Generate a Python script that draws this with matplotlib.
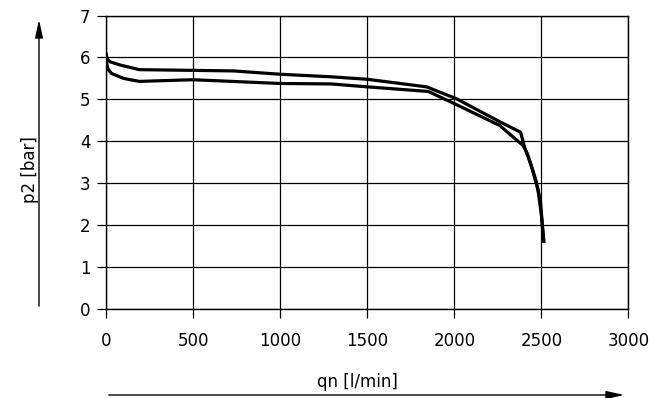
import matplotlib
matplotlib.use("Agg")
import matplotlib.pyplot as plt

# flow rate qn [l/min] and outlet pressure p2 [bar]
qn_upper = [0, 5, 20, 80, 190, 730, 1000, 1290, 1500, 1840, 2010, 2260, 2380, 2405, 2440, 2470, 2495, 2512]
p2_upper = [6.08, 5.97, 5.90, 5.82, 5.71, 5.68, 5.60, 5.54, 5.48, 5.30, 5.02, 4.47, 4.22, 3.84, 3.45, 3.05, 2.55, 1.62]

qn_lower = [0, 3, 10, 30, 100, 190, 500, 1000, 1290, 1500, 1850, 2010, 2260, 2395, 2420, 2450, 2480, 2500, 2514]
p2_lower = [6.02, 5.85, 5.72, 5.62, 5.50, 5.43, 5.47, 5.38, 5.37, 5.30, 5.19, 4.88, 4.38, 3.90, 3.70, 3.30, 2.85, 2.25, 1.62]

x_ticks = [0, 500, 1000, 1500, 2000, 2500, 3000]
y_ticks = [0, 1, 2, 3, 4, 5, 6, 7]

fig = plt.figure(figsize=(6.56, 3.98), dpi=100)
ax = fig.add_axes([0.162, 0.223, 0.796, 0.738])

ax.plot(qn_upper, p2_upper, color="black", lw=2.3, solid_joinstyle="round")
ax.plot(qn_lower, p2_lower, color="black", lw=2.3, solid_joinstyle="round")

ax.set_xlim(0, 3000)
ax.set_ylim(0, 7)
ax.set_xticks(x_ticks)
ax.set_yticks(y_ticks)
ax.grid(True, color="black", lw=0.9)
for s in ax.spines.values():
    s.set_color("black")
    s.set_linewidth(1.0)
ax.tick_params(axis="both", direction="out", length=6.5, width=0.9, labelsize=12)
ax.tick_params(axis="x", pad=10)
ax.tick_params(axis="y", pad=5)

# axis titles with arrows, drawn in figure coordinates
fig.text(30 / 656, 1 - 170 / 398, "p2 [bar]", rotation=90, ha="center", va="center", fontsize=12)
fig.text(357 / 656, 1 - 382 / 398, "qn [l/min]", ha="center", va="center", fontsize=12)

ax_arrow = dict(arrowstyle="-|>,head_length=0.9,head_width=0.2", color="black", lw=1.0)
fig.add_artist(matplotlib.patches.FancyArrowPatch(
    (39 / 656, 1 - 309 / 398), (39 / 656, 1 - 17 / 398),
    transform=fig.transFigure, mutation_scale=12, **ax_arrow))
fig.add_artist(matplotlib.patches.FancyArrowPatch(
    (106 / 656, 1 - 395 / 398), (627 / 656, 1 - 395 / 398),
    transform=fig.transFigure, mutation_scale=12, **ax_arrow))

fig.savefig("out.png", dpi=100)
